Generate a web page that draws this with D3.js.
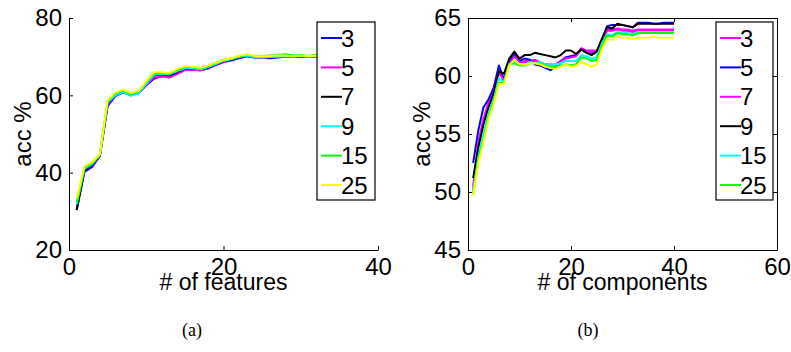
<!DOCTYPE html>
<html>
<head>
<meta charset="utf-8">
<script src="https://cdn.jsdelivr.net/npm/d3@7"></script>
<style>
  body { margin: 0; background: #fff; }
  text { font-family: "Liberation Sans", Arial, sans-serif; }
</style>
</head>
<body>
<div id="vis"></div>
<script>
// ---- data (a): accuracy vs # of features ----
const FEAT_X = d3.range(1, 40);
const FEAT_NAMES = ["3", "5", "7", "9", "15", "25"];
const FEAT_COLORS = ["#0000ff", "#ff00ff", "#000000", "#00ffff", "#00ff00", "#ffff00"];
const FEAT_3  = [30.5, 40.2, 41.5, 44.3, 57.2, 59.8, 60.8, 60.0, 60.5, 62.6, 64.3, 65.0, 64.8, 65.6, 66.6, 66.6, 66.5, 67.0, 67.8, 68.6, 69.0, 69.6, 70.1, 69.8, 69.7, 69.6, 69.8, 70.0, 69.9, 70.0, 69.9, 70.1, 70.0, 70.1, 70.0, 70.1, 70.0, 70.1, 70.0];
const FEAT_5  = [31.5, 40.5, 41.8, 44.4, 57.6, 60.0, 60.9, 60.1, 60.6, 62.8, 64.6, 64.9, 64.6, 65.5, 66.5, 66.7, 66.4, 66.9, 67.9, 68.6, 69.1, 69.7, 70.2, 69.9, 69.8, 69.9, 70.0, 70.1, 70.0, 70.1, 70.0, 70.2, 70.1, 70.1, 70.0, 70.1, 70.1, 70.0, 70.1];
const FEAT_7  = [30.3, 40.6, 42.0, 44.5, 58.0, 60.2, 61.1, 60.3, 60.8, 63.2, 65.2, 65.4, 65.2, 66.1, 66.9, 67.0, 66.7, 67.2, 68.0, 68.8, 69.2, 69.8, 70.2, 70.0, 70.0, 70.0, 70.1, 70.2, 70.1, 70.1, 70.0, 70.2, 70.1, 70.2, 70.1, 70.1, 70.2, 70.1, 70.1];
const FEAT_9  = [31.8, 41.0, 42.2, 44.6, 58.2, 60.0, 60.9, 59.9, 60.5, 63.0, 65.3, 65.5, 65.4, 66.3, 67.0, 67.0, 66.7, 67.3, 68.1, 68.9, 69.3, 69.9, 70.3, 69.9, 69.8, 69.9, 70.0, 70.1, 70.0, 70.2, 70.0, 70.2, 70.1, 70.0, 70.1, 70.2, 70.1, 70.1, 70.0];
const FEAT_15 = [32.3, 41.3, 42.5, 44.7, 58.5, 60.5, 61.3, 60.4, 61.0, 63.4, 65.7, 65.8, 65.6, 66.6, 67.3, 67.3, 67.0, 67.6, 68.4, 69.2, 69.5, 70.1, 70.5, 70.2, 70.2, 70.3, 70.4, 70.6, 70.3, 70.4, 70.2, 70.5, 70.4, 70.3, 70.4, 70.3, 70.4, 70.3, 70.3];
const FEAT_25 = [33.3, 41.6, 42.7, 44.8, 58.8, 60.7, 61.5, 60.6, 61.1, 63.6, 66.0, 66.0, 65.8, 66.8, 67.5, 67.4, 67.1, 67.7, 68.4, 69.2, 69.6, 70.2, 70.6, 70.2, 70.1, 70.2, 70.3, 70.3, 70.1, 70.3, 70.1, 70.3, 70.2, 70.3, 70.2, 70.3, 70.2, 70.2, 70.3];
const FEAT_XTICKS = [0, 20, 40];
const FEAT_YTICKS = [20, 40, 60, 80];

// ---- data (b): accuracy vs # of components ----
const COMP_X = d3.range(1, 41);
const COMP_NAMES = ["3", "5", "7", "9", "15", "25", null];
const COMP_COLORS = ["#ff00ff", "#0000ff", "#ff00ff", "#000000", "#00ffff", "#00ff00", "#ffff00"];
const COMP_3  = [50.5, 54.3, 56.3, 57.8, 58.8, 60.5, 59.8, 61.2, 61.8, 61.2, 61.3, 61.3, 61.4, 61.2, 61.0, 61.0, 61.0, 61.3, 61.6, 61.7, 61.8, 62.4, 62.2, 62.2, 62.2, 63.0, 64.0, 64.0, 64.1, 64.0, 64.0, 63.9, 64.0, 64.0, 64.0, 64.0, 64.0, 64.0, 64.0, 64.0];
const COMP_5  = [52.5, 55.3, 57.3, 58.0, 59.0, 60.9, 59.7, 61.2, 61.9, 61.3, 61.5, 61.4, 61.0, 60.9, 60.7, 60.5, 60.8, 61.2, 61.6, 61.7, 61.8, 62.3, 62.1, 62.0, 62.1, 63.1, 64.3, 64.4, 64.4, 64.4, 64.3, 64.2, 64.6, 64.6, 64.6, 64.5, 64.5, 64.6, 64.6, 64.6];
const COMP_7  = [50.2, 54.0, 56.0, 57.5, 58.6, 60.3, 59.6, 61.0, 61.7, 61.2, 61.2, 61.2, 61.3, 61.1, 61.0, 60.9, 60.9, 61.2, 61.5, 61.6, 61.7, 62.3, 62.1, 62.1, 62.1, 62.9, 63.9, 63.9, 64.0, 63.9, 63.9, 63.8, 63.9, 63.9, 63.9, 63.9, 63.9, 63.9, 63.9, 63.9];
const COMP_9  = [51.2, 53.8, 55.8, 57.3, 58.5, 60.4, 60.2, 61.5, 62.1, 61.5, 61.8, 61.8, 62.0, 61.9, 61.8, 61.7, 61.6, 61.8, 62.2, 62.2, 61.9, 62.3, 62.0, 61.8, 62.1, 63.2, 64.2, 64.1, 64.5, 64.4, 64.3, 64.2, 64.5, 64.5, 64.5, 64.5, 64.5, 64.5, 64.5, 64.5];
const COMP_15 = [50.0, 53.0, 55.0, 56.8, 58.0, 59.8, 59.5, 61.0, 61.3, 61.0, 61.0, 61.2, 61.1, 61.2, 61.0, 60.9, 61.0, 61.1, 61.3, 61.3, 61.3, 61.8, 61.7, 61.5, 61.6, 62.8, 63.6, 63.5, 63.8, 63.7, 63.7, 63.6, 63.8, 63.8, 63.8, 63.8, 63.8, 63.8, 63.8, 63.8];
const COMP_25 = [49.8, 52.8, 54.5, 56.5, 57.8, 59.4, 59.4, 61.0, 61.1, 60.9, 60.9, 61.1, 61.1, 61.1, 60.9, 60.8, 60.8, 60.9, 61.0, 60.9, 61.0, 61.6, 61.5, 61.3, 61.4, 62.6, 63.5, 63.4, 63.7, 63.6, 63.6, 63.5, 63.7, 63.7, 63.7, 63.7, 63.7, 63.7, 63.7, 63.7];
const COMP_Y  = [49.7, 52.5, 54.3, 56.3, 57.6, 59.3, 59.3, 60.9, 61.4, 61.0, 61.0, 61.1, 61.1, 61.0, 60.8, 60.7, 60.6, 60.8, 61.0, 60.8, 60.9, 61.2, 61.0, 60.8, 61.0, 62.3, 63.2, 63.1, 63.4, 63.3, 63.3, 63.2, 63.3, 63.3, 63.3, 63.4, 63.3, 63.3, 63.3, 63.3];
const COMP_XTICKS = [0, 20, 40, 60];
const COMP_YTICKS = [45, 50, 55, 60, 65];

const FRAME_WIDTH = 791;
const FRAME_HEIGHT = 352;

const SVG = d3.select("#vis")
    .append("svg")
    .attr("width", FRAME_WIDTH)
    .attr("height", FRAME_HEIGHT);

// draws one MATLAB-style panel
function panel(opt) {
    const X = d3.scaleLinear().domain(opt.xDomain).range([opt.left, opt.right]);
    const Y = d3.scaleLinear().domain(opt.yDomain).range([opt.bottom, opt.top]);
    const g = SVG.append("g");

    // lines
    const line = d3.line()
        .x((d, i) => X(opt.xs[i]))
        .y(d => Y(d));
    opt.series.forEach((s, k) => {
        g.append("path")
            .datum(s)
            .attr("d", line)
            .attr("fill", "none")
            .attr("stroke", opt.colors[k])
            .attr("stroke-width", 2)
            .attr("stroke-linejoin", "round");
    });

    // axes (ticks point inward)
    const bottomAxis = g.append("g")
        .attr("transform", "translate(0," + opt.bottom + ")")
        .call(d3.axisBottom(X).tickValues(opt.xTicks).tickSizeInner(-4).tickSizeOuter(0).tickPadding(8));
    const leftAxis = g.append("g")
        .attr("transform", "translate(" + opt.left + ",0)")
        .call(d3.axisLeft(Y).tickValues(opt.yTicks).tickSizeInner(-4).tickSizeOuter(0).tickPadding(7));
    if (opt.box) {
        g.append("g")
            .attr("transform", "translate(0," + opt.top + ")")
            .call(d3.axisTop(X).tickValues(opt.xTicks).tickSizeInner(-4).tickSizeOuter(0).tickFormat(""));
        g.append("g")
            .attr("transform", "translate(" + opt.right + ",0)")
            .call(d3.axisRight(Y).tickValues(opt.yTicks).tickSizeInner(-4).tickSizeOuter(0).tickFormat(""));
    }
    g.selectAll(".domain").attr("stroke", "#000").attr("stroke-width", 1);
    g.selectAll(".tick line").attr("stroke", "#000");
    g.selectAll(".tick text")
        .attr("fill", "#000")
        .style("font-size", "24px")
        .style("font-family", "'Liberation Sans', Arial, sans-serif");
    bottomAxis.selectAll(".tick text").attr("dy", "0.72em");

    // axis titles
    g.append("text")
        .attr("x", (opt.left + opt.right) / 2)
        .attr("y", 290)
        .attr("text-anchor", "middle")
        .style("font-size", "23px")
        .text(opt.xLabel);
    g.append("text")
        .attr("transform", "translate(" + (opt.left - 38) + "," + ((opt.top + opt.bottom) / 2) + ") rotate(-90)")
        .attr("text-anchor", "middle")
        .style("font-size", "24px")
        .text("acc %");

    // legend
    const lg = opt.legend;
    g.append("rect")
        .attr("x", lg.x).attr("y", lg.y)
        .attr("width", lg.w).attr("height", lg.h)
        .attr("fill", "#fff").attr("stroke", "#000").attr("stroke-width", 1.2);
    opt.names.forEach((n, k) => {
        if (n === null) return;
        const yy = lg.y + 16 + k * 29.4;
        g.append("line")
            .attr("x1", lg.x + 4).attr("x2", lg.x + 25)
            .attr("y1", yy).attr("y2", yy)
            .attr("stroke", opt.colors[k]).attr("stroke-width", 2);
        g.append("text")
            .attr("x", lg.x + 24).attr("y", yy)
            .attr("dy", "0.36em")
            .style("font-size", "24px")
            .text(n);
    });

    // caption
    g.append("text")
        .attr("x", opt.capX).attr("y", 336)
        .attr("text-anchor", "middle")
        .style("font-family", "'Liberation Serif', 'DejaVu Serif', serif")
        .style("font-size", "18px")
        .text(opt.caption);
}

panel({
    left: 69, right: 378, top: 18, bottom: 250,
    xDomain: [0, 40], yDomain: [20, 80],
    xs: FEAT_X,
    series: [FEAT_3, FEAT_5, FEAT_7, FEAT_9, FEAT_15, FEAT_25],
    colors: FEAT_COLORS, names: FEAT_NAMES,
    xTicks: FEAT_XTICKS, yTicks: FEAT_YTICKS,
    box: false,
    xLabel: "# of features",
    legend: {x: 317, y: 22, w: 58, h: 178},
    caption: "(a)", capX: 192
});

panel({
    left: 468, right: 777, top: 18, bottom: 250,
    xDomain: [0, 60], yDomain: [45, 65],
    xs: COMP_X,
    series: [COMP_3, COMP_5, COMP_7, COMP_9, COMP_15, COMP_25, COMP_Y],
    colors: COMP_COLORS, names: COMP_NAMES,
    xTicks: COMP_XTICKS, yTicks: COMP_YTICKS,
    box: true,
    xLabel: "# of components",
    legend: {x: 716, y: 22, w: 57, h: 178},
    caption: "(b)", capX: 588
});
</script>
</body>
</html>
